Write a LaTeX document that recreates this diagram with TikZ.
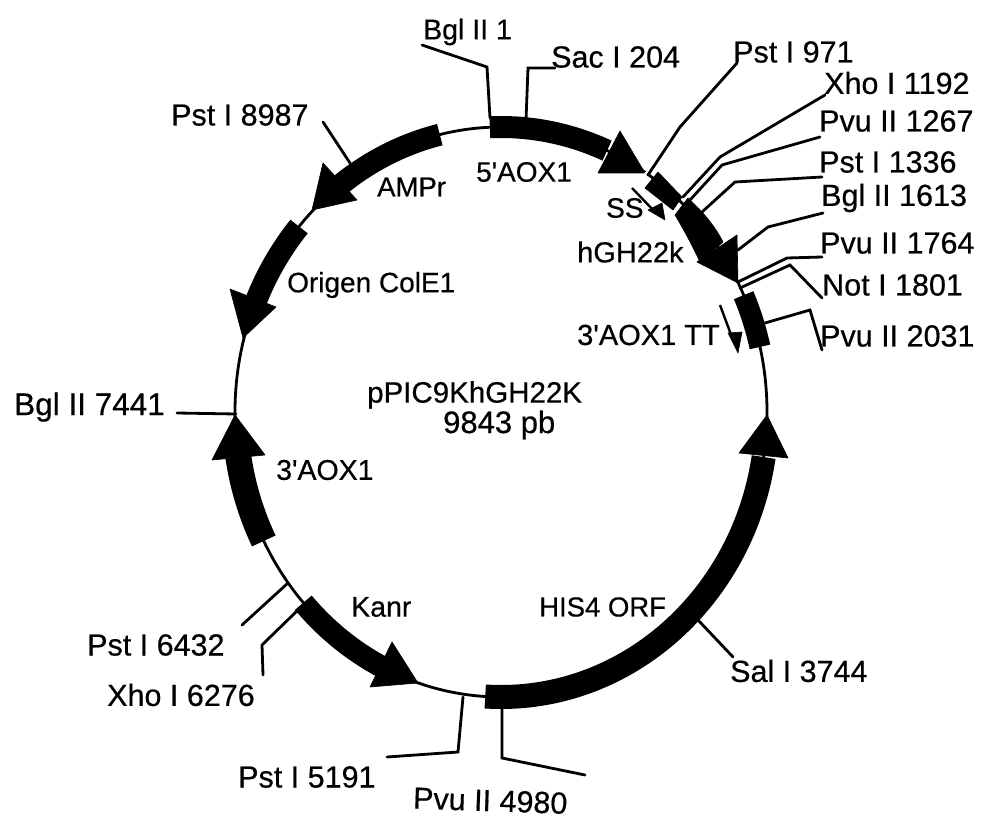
\documentclass[tikz,border=0pt]{standalone}
\usepackage{fontspec}
\newfontfamily\sitefont{Liberation Sans}[FakeBold=0.5]
\tikzset{
  sitetext/.style={anchor=west,inner sep=0pt,font=\sitefont\fontsize{#1}{32}\selectfont},
  sitetext/.default=30.5,
  leader/.style={line width=2.8pt,line join=miter,line cap=round},
  ring/.style={line width=2.8pt},
  head/.style={fill=black,draw=black,line width=0.6pt,line join=round},
  gap/.style={draw=white,line width=2.4pt}
}
\newcommand{\featarc}[3]{\draw[line width=#3pt] ({501+266*cos(#1)},{-412+285*sin(#1)}) arc[start angle=#1,end angle=#2,x radius=266pt,y radius=285pt];}
\begin{document}
\begin{tikzpicture}[x=1pt,y=1pt]
\path[use as bounding box,fill=white] (0,0) rectangle (986,-821);
% plasmid ring
\coordinate (centre) at (501,-412);
\draw[ring] (centre) ellipse[x radius=266pt,y radius=285pt];
% 5'AOX1
\featarc{92.4}{66.5}{22}
\fill[head] (620,-131) -- (645,-173) -- (598,-173) -- cycle;
% AMPr
\featarc{103.3}{127.2}{22}
\fill[head] (323,-163) -- (312,-210) -- (357,-200) -- cycle;
% Origen ColE1
\featarc{139.4}{157}{22}
\fill[head] (230,-289) -- (243,-338) -- (276,-307) -- cycle;
% 3'AOX1
\featarc{206.9}{189.1}{26}
\fill[head] (212,-460) -- (235,-415) -- (265,-455) -- cycle;
% Kanr
\featarc{222}{243.2}{22}
\fill[head] (392,-642) -- (418,-683) -- (370,-687) -- cycle;
% HIS4 ORF
\featarc{266.6}{350.9}{24}
\fill[head] (739,-453) -- (767,-415) -- (788,-458) -- cycle;
% SS block and hGH22k
\fill[head] (658,-172) -- (682,-197) -- (673,-210) -- (645,-188) -- cycle;
\fill[head] (688,-198) .. controls (703,-212) and (715,-226) .. (723,-242) -- (700,-262) .. controls (692,-245) and (684,-230) .. (675,-215) -- cycle;
\fill[head] (737,-235) -- (738,-283) -- (697,-262) -- cycle;
% 3'AOX1 TT block
\featarc{24.2}{13.2}{21}
% small arrows
\draw[line width=2.4pt] (632,-188) -- (655,-212);
\fill[head] (648,-210) -- (662,-203) -- (665,-220) -- cycle;
\draw[line width=2.4pt] (720,-305) -- (733,-340);
\fill[head] (728,-333) -- (742,-332) -- (738,-353) -- cycle;
% texts
\node[sitetext=28.5] (bgl1) at (423,-32) {Bgl II 1};
\node[sitetext] (sac204) at (551,-57) {Sac I 204};
\node[sitetext] (pst8987) at (171,-115) {Pst I 8987};
\node[sitetext] (pst971) at (733,-52) {Pst I 971};
\node[sitetext] (xho1192) at (824,-83) {Xho I 1192};
\node[sitetext] (pvu1267) at (819,-121) {Pvu II 1267};
\node[sitetext] (pst1336) at (819,-162) {Pst I 1336};
\node[sitetext] (bgl1613) at (821,-198) {Bgl II 1613};
\node[sitetext] (pvu1764) at (820,-243) {Pvu II 1764};
\node[sitetext] (not1801) at (822,-285) {Not I 1801};
\node[sitetext] (pvu2031) at (820,-336) {Pvu II 2031};
\node[sitetext=31.5] (bgl7441) at (14,-407) {Bgl II 7441};
\node[sitetext] (pst6432) at (87,-645) {Pst I 6432};
\node[sitetext] (xho6276) at (107,-695) {Xho I 6276};
\node[sitetext] (sal3744) at (730,-671) {Sal I 3744};
\node[sitetext] (pst5191) at (238,-777) {Pst I 5191};
\node[sitetext,rotate=-2] (pvu4980) at (413,-798) {Pvu II 4980};
\node[sitetext=27.5] (ampr) at (377,-187) {AMPr};
\node[sitetext=28] (aox5) at (476,-172) {5'AOX1};
\node[sitetext=28] (ss) at (606,-208) {SS};
\node[sitetext=29] (hgh) at (577,-252) {hGH22k};
\node[sitetext=29] (aoxtt) at (577,-335) {3'AOX1 TT};
\node[sitetext=28] (ori) at (287,-285) {Origen ColE1};
\node[sitetext=29.5] (name) at (367,-395) {pPIC9KhGH22K};
\node[sitetext=31] (size) at (443,-425) {9843 pb};
\node[sitetext=28.5] (aox3) at (276,-470) {3'AOX1};
\node[sitetext=28.5] (kan) at (351,-607) {Kanr};
\node[sitetext=27.5] (his) at (539,-607) {HIS4 ORF};
% gap between SS arrow and block
\draw[gap] (641,-178) -- (654,-166);
% leader anchor points
\foreach \n/\x/\y in {
 a1/422/45, b1/490/118, a2/555/68, b2/526/120, a3/323/122, b3/350/163,
 a4/737/63, b4/648/175, a5/825/95, b5/683/197, a6/820/137, b6/690/200,
 a7/822/177, b7/702/212, a8/823/213, b8/738/250, a9/822/257, b9/738/282,
 a10/822/298, b10/740/288, a11/822/350, b11/765/323, a12/177/413, b12/236/414,
 a13/242/625, b13/288/583, a14/263/675, b14/298/610, a15/387/757, b15/463/697,
 a16/585/775, b16/502/707, a17/733/657, b17/698/620}
 {\coordinate (\n) at (\x,-\y);}
\draw[leader] (a1) -- (487,-67) -- (b1);
\draw[leader] (a2) -- (528,-68) -- (b2);
\draw[leader] (a3) -- (b3);
\draw[leader] (a4) -- (680,-127) -- (b4);
\draw[leader] (a5) -- (720,-157) -- (b5);
\draw[leader] (a6) -- (722,-165) -- (b6);
\draw[leader] (a7) -- (735,-182) -- (b7);
\draw[leader] (a8) -- (768,-227) -- (b8);
\draw[leader] (a9) -- (787,-258) -- (b9);
\draw[leader] (a10) -- (790,-265) -- (b10);
\draw[leader] (a11) -- (810,-310) -- (b11);
\draw[leader] (a12) -- (b12);
\draw[leader] (a13) -- (b13);
\draw[leader] (a14) -- (262,-645) -- (b14);
\draw[leader] (a15) -- (458,-752) -- (b15);
\draw[leader] (a16) -- (502,-758) -- (b16);
\draw[leader] (a17) -- (b17);
\end{tikzpicture}
\end{document}
